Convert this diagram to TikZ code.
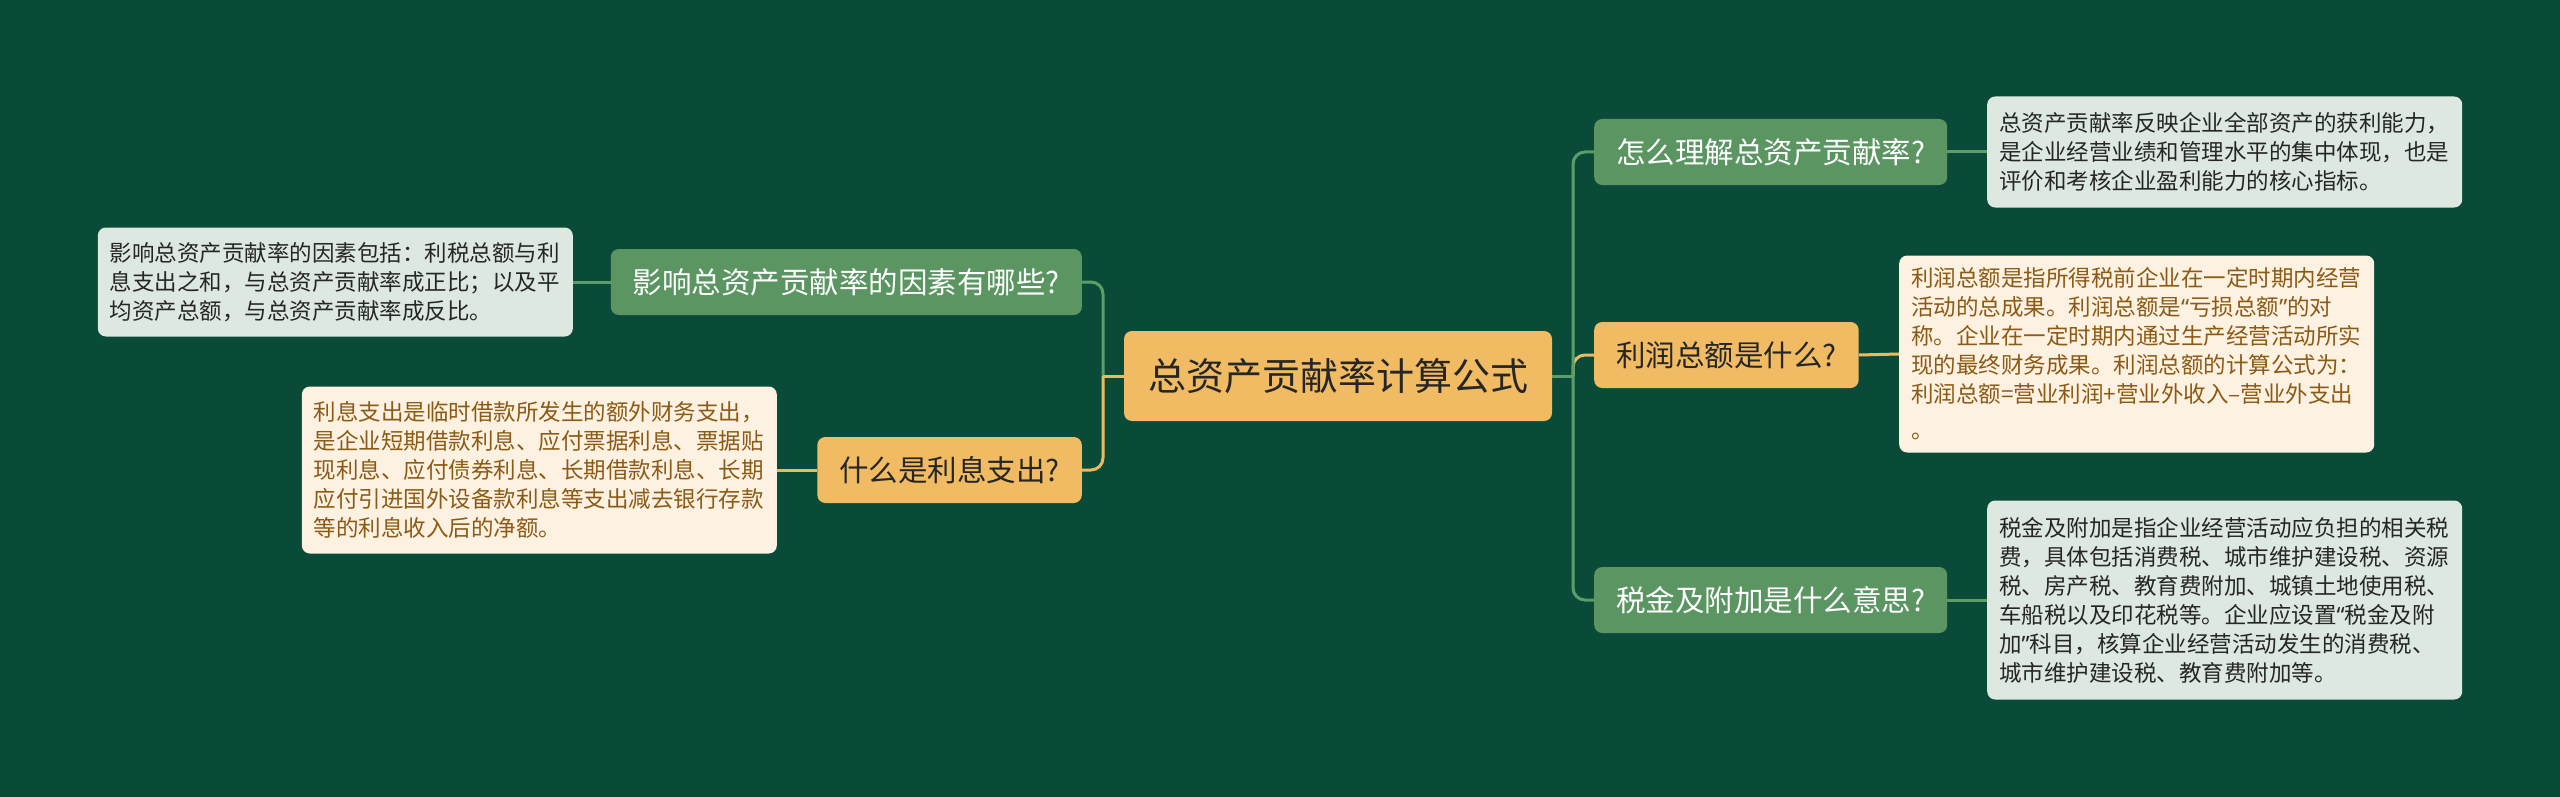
\documentclass[tikz,border=0pt]{standalone}
\usepackage{fontspec}
\setmainfont{Noto Sans CJK SC}
\newfontfamily\latinq{Noto Sans}
\newcommand{\myLq}{{\latinq “}}
\newcommand{\myRq}{{\latinq ”}}
\definecolor{bg}{HTML}{0A4A39}
\definecolor{gnode}{HTML}{5A9562}
\definecolor{gline}{HTML}{5C9D68}
\definecolor{onode}{HTML}{F0BB62}
\definecolor{oline}{HTML}{EDB95E}
\definecolor{gleaf}{HTML}{DDE8E0}
\definecolor{oleaf}{HTML}{FDF1E2}
\definecolor{brownt}{HTML}{8B5A14}
\definecolor{darkt}{HTML}{262626}
\tikzset{
  rootbox/.style={fill=onode, rounded corners=8pt, font=\fontsize{38}{44}\selectfont, text=darkt, inner xsep=24pt, inner ysep=4pt, minimum height=90pt},
  gbranch/.style={fill=gnode, rounded corners=8pt, font=\fontsize{29.5}{34}\selectfont, text=white, inner xsep=22pt, inner ysep=4pt, minimum height=66pt},
  obranch/.style={fill=onode, rounded corners=8pt, font=\fontsize{29.5}{34}\selectfont, text=darkt, inner xsep=22pt, inner ysep=4pt, minimum height=66pt},
  leafbase/.style={rounded corners=8pt, font=\fontsize{22.5}{29}\selectfont, align=left, text width=451pt, inner xsep=12pt, inner ysep=4pt},
  gleafbox/.style={leafbase, fill=gleaf, text=darkt},
  oleafbox/.style={leafbase, fill=oleaf, text=brownt},
  gconn/.style={draw=gline, line width=3pt},
  oconn/.style={draw=oline, line width=3pt},
}
\begin{document}
\begin{tikzpicture}[x=1pt, y=-1pt]
\fill[bg] (0,0) rectangle (2560,797);
\useasboundingbox (0,0) rectangle (2560,797);

% root
\node[rootbox] (root) at (1338,376) {总资产贡献率计算公式};

% left branches
\node[gbranch, anchor=east] (L1) at (1082,282) {影响总资产贡献率的因素有哪些?};
\node[obranch, anchor=east] (L2) at (1082,470) {什么是利息支出?};

% right branches
\node[gbranch, anchor=west] (R1) at (1594,152) {怎么理解总资产贡献率?};
\node[obranch, anchor=west] (R2) at (1594,355) {利润总额是什么?};
\node[gbranch, anchor=west] (R3) at (1594,600) {税金及附加是什么意思?};

% leaves
\node[gleafbox, anchor=east, minimum height=109pt] (L1x) at (573,282) {影响总资产贡献率的因素包括：利税总额与利\\息支出之和，与总资产贡献率成正比；以及平\\均资产总额，与总资产贡献率成反比。};
\node[oleafbox, anchor=east, minimum height=167pt] (L2x) at (777,470) {利息支出是临时借款所发生的额外财务支出，\\是企业短期借款利息、应付票据利息、票据贴\\现利息、应付债券利息、长期借款利息、长期\\应付引进国外设备款利息等支出减去银行存款\\等的利息收入后的净额。};
\node[gleafbox, anchor=west, minimum height=111pt] (R1x) at (1987,152) {总资产贡献率反映企业全部资产的获利能力，\\是企业经营业绩和管理水平的集中体现，也是\\评价和考核企业盈利能力的核心指标。};
\node[oleafbox, anchor=west, minimum height=197pt] (R2x) at (1899,354) {利润总额是指所得税前企业在一定时期内经营\\活动的总成果。利润总额是\myLq 亏损总额\myRq 的对\\称。企业在一定时期内通过生产经营活动所实\\现的最终财务成果。利润总额的计算公式为：\\利润总额=营业利润+营业外收入–营业外支出\\[7pt]。};
\node[gleafbox, anchor=west, minimum height=199pt] (R3x) at (1987,600) {税金及附加是指企业经营活动应负担的相关税\\费，具体包括消费税、城市维护建设税、资源\\税、房产税、教育费附加、城镇土地使用税、\\车船税以及印花税等。企业应设置\myLq 税金及附\\加\myRq 科目，核算企业经营活动发生的消费税、\\城市维护建设税、教育费附加等。};

% trunk junctions
\coordinate (jl) at (1103,376);
\coordinate (jr) at (1573,376);

% left connectors
\draw[gconn, rounded corners=12pt] (jl) |- (L1.east);
\draw[oconn, rounded corners=12pt] (jl) |- (L2.east);
\draw[oconn] (root.west) -- (jl);

% right connectors
\draw[oconn, rounded corners=12pt] (jr) |- (R2.west);
\draw[gconn, rounded corners=12pt] (jr) |- (R1.west);
\draw[gconn, rounded corners=12pt] (jr) |- (R3.west);
\draw[gconn] (root.east) -- (jr);

% leaf connectors
\draw[gconn] (L1.west) -- (L1x.east);
\draw[oconn] (L2.west) -- (L2x.east);
\draw[gconn] (R1.east) -- (R1x.west);
\draw[oconn] (R2.east) -- (R2x.west);
\draw[gconn] (R3.east) -- (R3x.west);
\end{tikzpicture}
\end{document}
